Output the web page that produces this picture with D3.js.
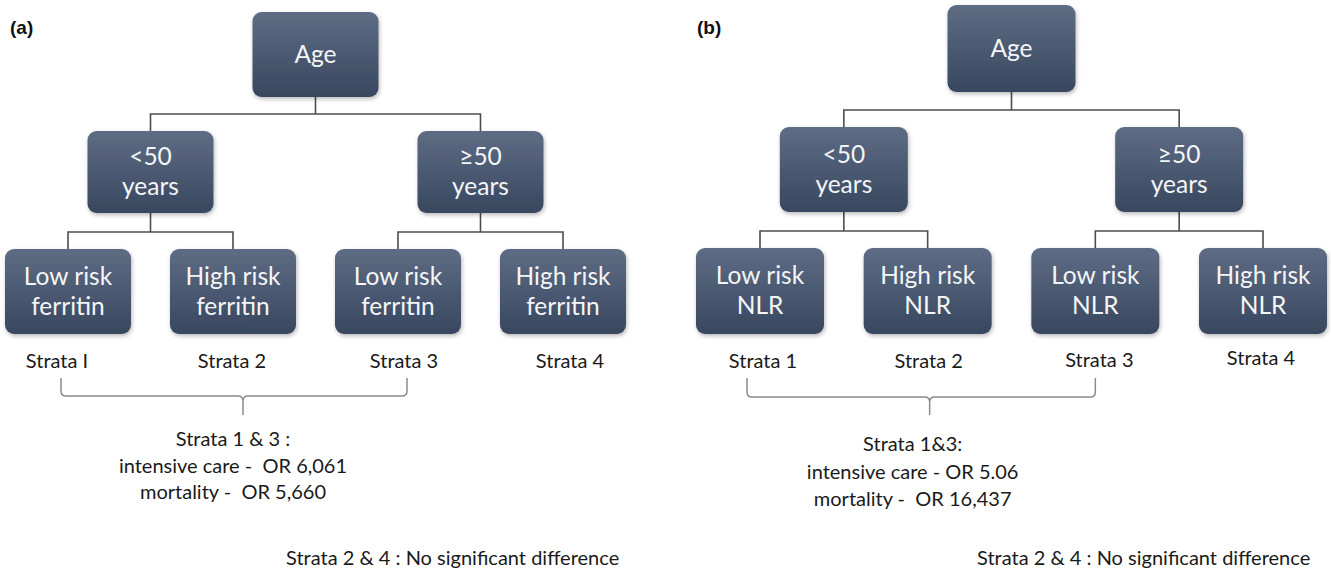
<!DOCTYPE html>
<html>
<head>
<meta charset="utf-8">
<script src="https://cdn.jsdelivr.net/npm/d3@7"></script>
<style>
  html, body { margin: 0; padding: 0; background: #ffffff; }
  svg { display: block; }
  text { white-space: pre; }
</style>
</head>
<body>
<svg id="chart" width="1331" height="583"></svg>
<script>
// ---------------- DATA ----------------
const panelLabels   = ["(a)", "(b)"];
const rootLabel     = "Age";
const ageGroups     = [["<50", "years"], ["\u226550", "years"]];
const riskLevels    = ["Low risk", "High risk"];
const markers       = ["ferritin", "NLR"];
const strataLabelsA = ["Strata I", "Strata 2", "Strata 3", "Strata 4"];
const strataLabelsB = ["Strata 1", "Strata 2", "Strata 3", "Strata 4"];
const summaryA      = ["Strata 1 & 3 :", "intensive care -  OR 6,061", "mortality -  OR 5,660"];
const summaryB      = ["Strata 1&3:", "intensive care - OR 5.06", "mortality -  OR 16,437"];
const noteText      = "Strata 2 & 4 : No significant difference";

// ---------------- LAYOUT (style / geometry config) ----------------
const layout = [
  { leafRange: [68, 563], levelTops: [12, 131, 249], boxW: 126, boxH: [85, 82, 85],
    labelX: 10, labelY: 34, strataNudge: [-11, -1, 6, 7], strataDY: [0, 0, 0, 0], strataY: 368,
    bracket: { l: -7, r: 9, tick: 10, top: 378, bot: 396, tipY: 415 },
    summaryDX: 0, summaryY: [446, 473, 499], noteX: 286, noteY: 565 },
  { leafRange: [760, 1263], levelTops: [5, 127, 248], boxW: 128, boxH: [87, 85, 86],
    labelX: 697, labelY: 34, strataNudge: [3, 1, 4, -2], strataDY: [0, 0, -1, -3], strataY: 368,
    bracket: { l: -13, r: 0, tick: 2, top: 378, bot: 397, tipY: 415 },
    summaryDX: -15, summaryY: [451, 479, 506], noteX: 977, noteY: 565 }
];

const FONT = "Lato, 'Open Sans', 'DejaVu Sans', sans-serif";
const BODY_SIZE = 20;
const svg = d3.select("#chart");

// gradient + shadow
const defs = svg.append("defs");
const grad = defs.append("linearGradient").attr("id", "boxGrad")
  .attr("x1", 0).attr("y1", 0).attr("x2", 0).attr("y2", 1);
grad.append("stop").attr("offset", "0%").attr("stop-color", "#5e6c84");
grad.append("stop").attr("offset", "100%").attr("stop-color", "#38475f");
const flt = defs.append("filter").attr("id", "shadow")
  .attr("x", "-10%").attr("y", "-10%").attr("width", "125%").attr("height", "130%");
flt.append("feDropShadow").attr("dx", 1).attr("dy", 2).attr("stdDeviation", 2)
  .attr("flood-color", "#000").attr("flood-opacity", 0.28);

function drawPanel(p, i) {
  const L = layout[i];
  const g = svg.append("g");
  const strata = i === 0 ? strataLabelsA : strataLabelsB;
  const summary = i === 0 ? summaryA : summaryB;
  const marker = markers[i];

  // scales
  const leafIdx = d3.range(4);
  const x = d3.scalePoint().domain(leafIdx).range(L.leafRange);
  const yTop = d3.scaleOrdinal().domain([0, 1, 2]).range(L.levelTops);

  // build tree
  const treeData = {
    name: [rootLabel],
    children: ageGroups.map((ag, a) => ({
      name: ag,
      children: riskLevels.map((r, k) => ({ name: [r, marker], leaf: a * 2 + k }))
    }))
  };
  const root = d3.hierarchy(treeData);
  root.eachAfter(n => {
    n.cx = n.children ? d3.mean(n.children, c => c.cx) : x(n.data.leaf);
    n.top = yTop(n.depth);
    n.h = L.boxH[n.depth];
  });

  // connectors
  const connColor = "#4d4d4d";
  root.each(n => {
    if (!n.children) return;
    const bottom = n.top + n.h;
    const childTop = n.children[0].top;
    const midY = childTop - 17;
    const path = d3.path();
    path.moveTo(n.cx, bottom); path.lineTo(n.cx, midY);
    path.moveTo(n.children[0].cx, childTop); path.lineTo(n.children[0].cx, midY);
    path.lineTo(n.children[1].cx, midY); path.lineTo(n.children[1].cx, childTop);
    g.append("path").attr("d", path.toString())
      .attr("fill", "none").attr("stroke", connColor).attr("stroke-width", 1.6);
  });

  // boxes
  const nodes = g.selectAll("g.node").data(root.descendants()).join("g").attr("class", "node");
  nodes.append("rect")
    .attr("x", d => d.cx - L.boxW / 2).attr("y", d => d.top)
    .attr("width", L.boxW).attr("height", d => d.h)
    .attr("rx", 9).attr("ry", 9)
    .attr("fill", "url(#boxGrad)")
    .attr("filter", "url(#shadow)");
  nodes.each(function (d) {
    const lines = d.data.name;
    const cy = d.top + d.h / 2;
    const base = lines.length === 1 ? [cy + 8] : [cy - 7, cy + 23];
    d3.select(this).selectAll("text").data(lines).join("text")
      .attr("x", d.cx).attr("y", (t, j) => base[j])
      .attr("text-anchor", "middle")
      .attr("fill", "#f4f5f7")
      .attr("font-family", FONT).attr("font-size", 24.5)
      .text(t => t);
  });

  // strata labels
  g.selectAll("text.strata").data(strata).join("text").attr("class", "strata")
    .attr("x", (s, j) => x(j) + L.strataNudge[j]).attr("y", (s, j) => L.strataY + L.strataDY[j])
    .attr("text-anchor", "middle").attr("fill", "#1a1a1a")
    .attr("font-family", FONT).attr("font-size", BODY_SIZE)
    .text(s => s);

  // bracket between strata 1 and 3
  const B = L.bracket;
  const bl = x(0) + B.l, br = x(2) + B.r, bt = (x(0) + x(2)) / 2 + B.tick;
  const c = 5;
  const bp = d3.path();
  bp.moveTo(bl, B.top); bp.lineTo(bl, B.bot - c);
  bp.quadraticCurveTo(bl, B.bot, bl + c, B.bot);
  bp.lineTo(bt - c, B.bot);
  bp.quadraticCurveTo(bt, B.bot, bt, B.bot + c);
  bp.lineTo(bt, B.tipY);
  bp.moveTo(bt, B.bot + c);
  bp.quadraticCurveTo(bt, B.bot, bt + c, B.bot);
  bp.lineTo(br - c, B.bot);
  bp.quadraticCurveTo(br, B.bot, br, B.bot - c);
  bp.lineTo(br, B.top);
  g.append("path").attr("d", bp.toString()).attr("fill", "none")
    .attr("stroke", "#8c8c8c").attr("stroke-width", 1.5);

  // summary
  const sx = (x(0) + x(2)) / 2 + L.summaryDX;
  g.selectAll("text.summary").data(summary).join("text").attr("class", "summary")
    .attr("x", sx).attr("y", (s, j) => L.summaryY[j])
    .attr("text-anchor", "middle").attr("fill", "#1a1a1a")
    .attr("font-family", FONT).attr("font-size", BODY_SIZE)
    .text(s => s);

  // note
  g.append("text").attr("x", L.noteX).attr("y", L.noteY)
    .attr("fill", "#1a1a1a").attr("font-family", FONT).attr("font-size", BODY_SIZE)
    .text(noteText);

  // panel label
  g.append("text").attr("x", L.labelX).attr("y", L.labelY)
    .attr("fill", "#111").attr("font-family", "Arial, 'Liberation Sans', sans-serif")
    .attr("font-weight", "bold").attr("font-size", 19)
    .text(p);
}

panelLabels.forEach(drawPanel);
</script>
</body>
</html>
